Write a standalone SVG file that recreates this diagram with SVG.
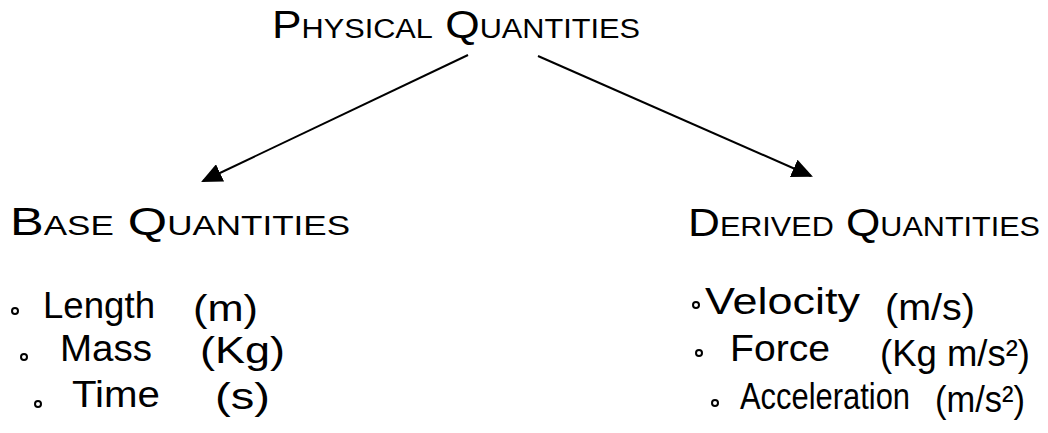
<svg xmlns="http://www.w3.org/2000/svg" width="1048" height="433" viewBox="0 0 1048 433">
<style>
.t{font-family:"Liberation Sans",Arial,sans-serif;fill:#000}
.h{font-variant:small-caps;font-size:39px}
.i{font-size:37px}
.b{fill:none;stroke:#000;stroke-width:2}
.c{fill:none;stroke:#000;stroke-width:2}
</style>
<defs>
<marker id="ah" viewBox="0 0 10 10" refX="9" refY="5" markerWidth="21" markerHeight="19" markerUnits="userSpaceOnUse" orient="auto" preserveAspectRatio="none">
<path d="M0,0 L10,5 L0,10 Z" fill="#000"/>
</marker>
</defs>
<rect width="1048" height="433" fill="#fff"/>
<g id="connectors">
<line class="c" x1="468" y1="55" x2="203" y2="181" marker-end="url(#ah)"/>
<line class="c" x1="538" y1="56" x2="811" y2="176" marker-end="url(#ah)"/>
</g>
<g id="physical">
<text class="t h" x="272" y="38" textLength="368" lengthAdjust="spacingAndGlyphs">Physical Quantities</text>
</g>
<g id="base">
<text class="t h" x="10" y="235" textLength="340" lengthAdjust="spacingAndGlyphs">Base Quantities</text>
</g>
<g id="derived">
<text class="t h" x="688" y="236" textLength="352" lengthAdjust="spacingAndGlyphs">Derived Quantities</text>
</g>
<g id="base-list">
<circle class="b" cx="15" cy="311" r="3"/>
<text class="t i" x="43" y="318" textLength="112" lengthAdjust="spacingAndGlyphs">Length</text>
<text class="t i" x="193" y="321" textLength="65" lengthAdjust="spacingAndGlyphs">(m)</text>
<circle class="b" cx="24" cy="357" r="3"/>
<text class="t i" x="60" y="361" textLength="92" lengthAdjust="spacingAndGlyphs">Mass</text>
<text class="t i" x="200" y="363" textLength="85" lengthAdjust="spacingAndGlyphs">(Kg)</text>
<circle class="b" cx="38" cy="404" r="3"/>
<text class="t i" x="72" y="407" textLength="88" lengthAdjust="spacingAndGlyphs">Time</text>
<text class="t i" x="215" y="409" textLength="55" lengthAdjust="spacingAndGlyphs">(s)</text>
</g>
<g id="derived-list">
<circle class="b" cx="696" cy="305" r="3"/>
<text class="t i" x="705" y="314" textLength="155" lengthAdjust="spacingAndGlyphs">Velocity</text>
<text class="t i" x="885" y="320" textLength="90" lengthAdjust="spacingAndGlyphs">(m/s)</text>
<circle class="b" cx="699" cy="353" r="3"/>
<text class="t i" x="730" y="361" textLength="100" lengthAdjust="spacingAndGlyphs">Force</text>
<text class="t i" x="880" y="366" textLength="150" lengthAdjust="spacingAndGlyphs">(Kg m/s²)</text>
<circle class="b" cx="715" cy="403" r="3"/>
<text class="t i" x="740" y="409" textLength="170" lengthAdjust="spacingAndGlyphs">Acceleration</text>
<text class="t i" x="935" y="412" textLength="90" lengthAdjust="spacingAndGlyphs">(m/s²)</text>
</g>
</svg>
